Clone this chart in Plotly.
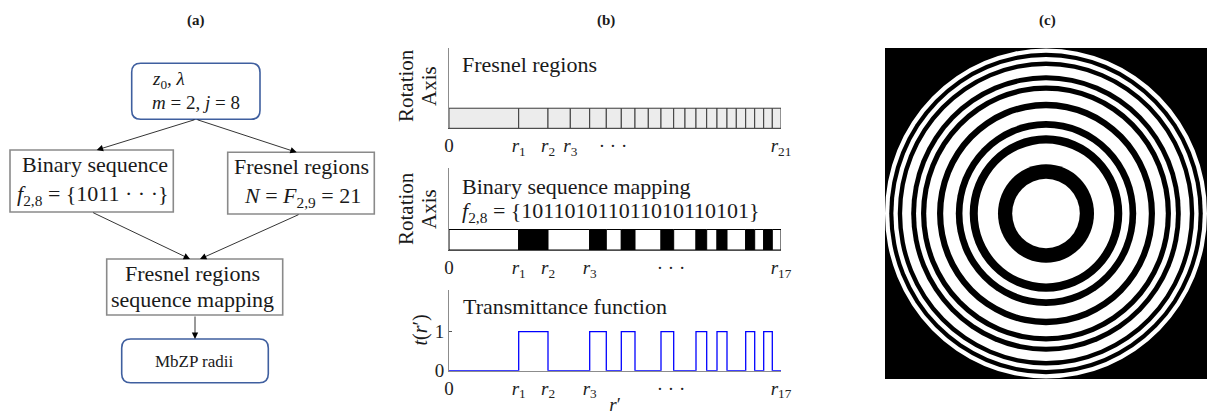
import plotly.graph_objects as go

W, H = 1207, 415

# ---------------- data ----------------
# Fresnel region outer radii r_1 ... r_21 (arbitrary units, r_21 = 332)
fresnel_radii = [69.7, 99.0, 121.3, 140.7, 157.3, 172.3, 186.0, 199.3, 212.0, 224.7,
                 236.0, 247.0, 257.7, 268.0, 278.0, 287.3, 296.7, 305.7, 314.7, 323.3, 332.0]
# binary sequence f_{2,8}, one digit per Fresnel region
binary_sequence = [1, 0, 1, 1, 0, 1, 0, 1, 1, 0, 1, 1, 0, 1, 0, 1, 1, 0, 1, 0, 1]

top_tick_labels = ["0", "<i>r</i><sub>1</sub>", "<i>r</i><sub>2</sub>", "<i>r</i><sub>3</sub>",
                   "· · ·", "<i>r</i><sub>21</sub>"]
mapped_tick_labels = ["0", "<i>r</i><sub>1</sub>", "<i>r</i><sub>2</sub>", "<i>r</i><sub>3</sub>",
                      "· · ·", "<i>r</i><sub>17</sub>"]
top_dots_at = 164.0
mapped_dots_at = 222.0

# ---------------- derived: merge equal neighbouring digits ----------------
mapped_radii, seg_digits = [], []
for i, d in enumerate(binary_sequence):
    if i == 0 or d != binary_sequence[i - 1]:
        seg_digits.append(d)
    if i == len(binary_sequence) - 1 or d != binary_sequence[i + 1]:
        mapped_radii.append(fresnel_radii[i])
transmittance = [1 - d for d in seg_digits]

SERIF = "Liberation Serif"
fig = go.Figure()

# ---- (b) top: Fresnel regions ----
lefts = [0.0] + fresnel_radii[:-1]
fig.add_trace(go.Bar(
    x=[(a + b) / 2 for a, b in zip(lefts, fresnel_radii)],
    y=[1] * len(fresnel_radii), width=[b - a for a, b in zip(lefts, fresnel_radii)],
    base=0, marker=dict(color="#ececec", line=dict(color="#3a3a3a", width=1)),
    xaxis="x", yaxis="y", hoverinfo="skip"))

# ---- (b) middle: binary sequence mapping ----
mlefts = [0.0] + mapped_radii[:-1]
fig.add_trace(go.Bar(
    x=[(a + b) / 2 for a, b in zip(mlefts, mapped_radii)],
    y=[1] * len(mapped_radii), width=[b - a for a, b in zip(mlefts, mapped_radii)],
    base=0, marker=dict(color=["white" if d == 1 else "black" for d in seg_digits],
                        line=dict(color="black", width=1)),
    xaxis="x2", yaxis="y2", hoverinfo="skip"))

# ---- (b) bottom: transmittance ----
fig.add_trace(go.Scatter(
    x=[0.0] + mapped_radii, y=transmittance + [transmittance[-1]],
    mode="lines", line=dict(color="#0000ff", width=1.3, shape="hv"),
    xaxis="x3", yaxis="y3", hoverinfo="skip"))

# dummy traces for the other axes
fig.add_trace(go.Scatter(x=[0], y=[0], mode="markers", marker=dict(opacity=0),
                         xaxis="x4", yaxis="y4", hoverinfo="skip"))
fig.add_trace(go.Scatter(x=[0], y=[0], mode="markers", marker=dict(opacity=0),
                         xaxis="x5", yaxis="y5", hoverinfo="skip"))

def px(x):
    return x / W

def py(y):
    return 1 - y / H

xb = [px(449), px(781)]
rmax = fresnel_radii[-1]
common_x = dict(range=[0, rmax], showgrid=False, zeroline=False, ticks="",
                showline=True, linewidth=1,
                tickfont=dict(family=SERIF, size=19, color="#222"), fixedrange=True)
common_y = dict(showgrid=False, zeroline=False, showline=True, linecolor="#8c8c8c",
                linewidth=1, fixedrange=True)

layout = dict(
    width=W, height=H, margin=dict(l=0, r=0, t=0, b=0, autoexpand=False),
    paper_bgcolor="white", plot_bgcolor="white", showlegend=False,
    barmode="overlay",
    xaxis=dict(domain=xb, anchor="y", tickvals=[0] + fresnel_radii[:3] + [top_dots_at, rmax],
               ticktext=top_tick_labels, linecolor="#4d4d4d", **common_x),
    yaxis=dict(domain=[py(128.3), py(48)], anchor="x", range=[0, 4],
               showticklabels=False, **common_y),
    xaxis2=dict(domain=xb, anchor="y2", linecolor="#4d4d4d",
                tickvals=[0] + mapped_radii[:3] + [mapped_dots_at, mapped_radii[-1]],
                ticktext=mapped_tick_labels, **common_x),
    yaxis2=dict(domain=[py(250), py(168)], anchor="x2", range=[0, 4],
                showticklabels=False, **common_y),
    xaxis3=dict(domain=xb, anchor="y3", layer="below traces", linecolor="#8c8c8c",
                tickvals=[0] + mapped_radii[:3] + [mapped_dots_at, mapped_radii[-1]],
                ticktext=mapped_tick_labels,
                title=dict(text="<i>r</i>′", font=dict(family=SERIF, size=19, color="#222"),
                           standoff=4),
                **common_x),
    yaxis3=dict(domain=[py(370.7), py(290)], anchor="x3", range=[0, 2.07],
                tickvals=[0, 1], ticktext=["0", "1"], ticks="inside", ticklen=3,
                tickcolor="#555", layer="below traces",
                tickfont=dict(family=SERIF, size=19, color="#222"), **common_y),
    xaxis4=dict(domain=[px(885), 1.0], anchor="y4", range=[-rmax, rmax], visible=False,
                fixedrange=True),
    yaxis4=dict(domain=[py(379), py(48)], anchor="x4", range=[-333, 333], visible=False,
                fixedrange=True),
    xaxis5=dict(domain=[0, px(400)], anchor="y5", range=[0, 400], visible=False,
                fixedrange=True),
    yaxis5=dict(domain=[0, 1], anchor="x5", range=[H, 0], visible=False, fixedrange=True),
)
fig.update_layout(**layout)

shapes = []
# ---- (c) zone plate ----
shapes.append(dict(type="rect", xref="x4 domain", yref="y4 domain", x0=0, x1=1, y0=0, y1=1,
                   fillcolor="black", line=dict(width=0), layer="above"))
for k in range(len(mapped_radii) - 1, -1, -1):
    r = mapped_radii[k]
    shapes.append(dict(type="circle", xref="x4", yref="y4", x0=-r, x1=r, y0=-r, y1=r,
                       fillcolor="white" if seg_digits[k] == 1 else "black",
                       line=dict(width=0), layer="above"))

# ---- (a) flow chart ----
def rounded(x0, y0, x1, y1, r=9):
    return (f"M {x0+r},{y0} L {x1-r},{y0} Q {x1},{y0} {x1},{y0+r} L {x1},{y1-r} "
            f"Q {x1},{y1} {x1-r},{y1} L {x0+r},{y1} Q {x0},{y1} {x0},{y1-r} "
            f"L {x0},{y0+r} Q {x0},{y0} {x0+r},{y0} Z")

BLUE = "#3f5f9f"
GREY = "#8a8a8a"
boxes_round = [(131.7, 63.3, 260.0, 119.3), (121.7, 339.0, 268.3, 382.7)]
boxes_rect = [(10.0, 150.0, 173.3, 212.0), (227.7, 152.3, 374.3, 214.0),
              (106.7, 259.0, 282.7, 315.0)]
for b in boxes_round:
    shapes.append(dict(type="path", xref="x5", yref="y5", path=rounded(*b),
                       line=dict(color=BLUE, width=1.6), fillcolor="white"))
for b in boxes_rect:
    shapes.append(dict(type="rect", xref="x5", yref="y5", x0=b[0], x1=b[2], y0=b[1], y1=b[3],
                       line=dict(color=GREY, width=1.6), fillcolor="white"))
fig.update_layout(shapes=shapes)

ann = []
def txt(x, y, s, size=22, xanchor="center", ref="x5", angle=0, color="#1a1a1a"):
    d = dict(text=s, x=x, y=y, showarrow=False, xanchor=xanchor, yanchor="middle",
             font=dict(family=SERIF, size=size, color=color), textangle=angle)
    if ref == "x5":
        d.update(xref="x5", yref="y5")
    else:
        d.update(xref="paper", yref="paper", x=px(x), y=py(y))
    ann.append(d)

txt(150, 80, "<i>z</i><sub>0</sub>, <i>λ</i>", size=19, xanchor="left")
txt(150, 102, "<i>m</i> = 2, <i>j</i> = 8", size=19, xanchor="left")
txt(95, 164, "Binary sequence")
txt(92.5, 195, "<i>f</i><sub>2,8</sub> = {1011 · · ·}")
txt(301, 166, "Fresnel regions")
txt(302.5, 196.7, "<i>N</i> = <i>F</i><sub>2,9</sub> = 21")
txt(192, 273.3, "Fresnel regions")
txt(192, 299, "sequence mapping")
txt(194, 361, "MbZP radii", size=17)

arrows = [((196, 119.3), (96.7, 150)), ((196, 119.3), (296.7, 152.3)),
          ((91.7, 212), (190, 259)), ((300, 214), (200, 259)),
          ((195, 315), (195, 339))]
for (tx, ty), (hx, hy) in arrows:
    ann.append(dict(x=hx, y=hy, ax=tx, ay=ty, xref="x5", yref="y5", axref="x5", ayref="y5",
                    text="", showarrow=True, arrowhead=2, arrowsize=1.6, arrowwidth=0.8,
                    arrowcolor="black", standoff=0))

# panel titles
txt(196, 20, "<b>(a)</b>", size=15, ref="paper")
txt(606, 20, "<b>(b)</b>", size=15, ref="paper")
txt(1047, 20, "<b>(c)</b>", size=15, ref="paper")

# panel (b) texts
txt(460, 65, "Fresnel regions", xanchor="left", ref="paper")
txt(460, 186.7, "Binary sequence mapping", xanchor="left", ref="paper")
txt(460, 211.7, "<i>f</i><sub>2,8</sub> = {101101011011010110101}", xanchor="left", ref="paper")
txt(461, 306.7, "Transmittance function", xanchor="left", ref="paper")
for yc in (86, 209):
    txt(406, yc, "Rotation", size=21, ref="paper", angle=-90)
    txt(429, yc, "Axis", size=21, ref="paper", angle=-90)
txt(420, 330.5, "<i>t</i>(<i>r</i>′)", size=20, ref="paper", angle=-90)

fig.update_layout(annotations=ann)
fig.write_html("out.html", post_script="document.body.style.margin='0';")
